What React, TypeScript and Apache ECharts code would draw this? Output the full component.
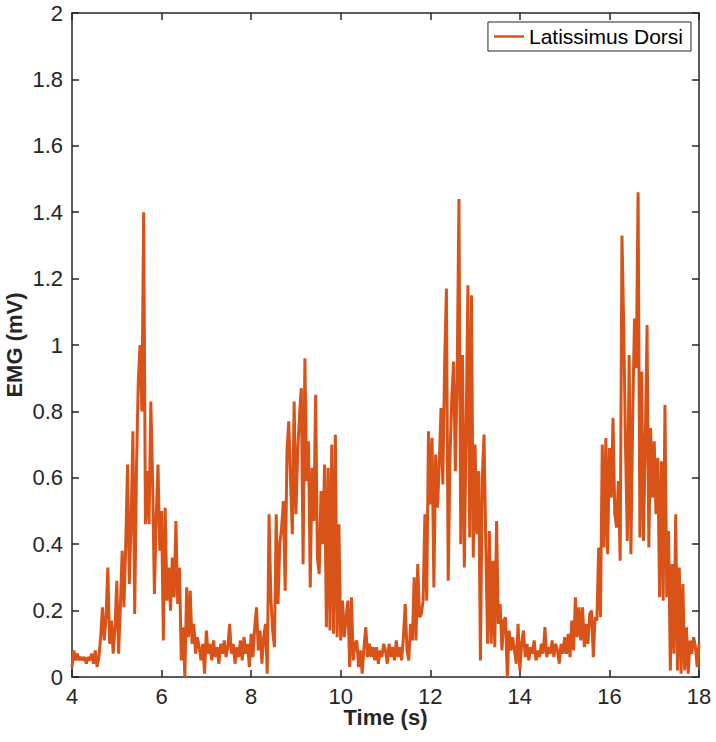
import React, { useEffect, useRef } from "react";
import * as echarts from "echarts";

// ---- Data (EMG, mV), sampled every 0.04 s starting at 4 s ----
const START_TIME = 4;
const SAMPLE_STEP = 0.04;
const SERIES_NAME = "Latissimus Dorsi";
const X_TITLE = "Time (s)";
const Y_TITLE = "EMG (mV)";
const X_TICKS = [4, 6, 8, 10, 12, 14, 16, 18];
const Y_TICKS = [0, 0.2, 0.4, 0.6, 0.8, 1, 1.2, 1.4, 1.6, 1.8, 2];

const emg4s = [0.03, 0.08, 0.05, 0.07, 0.05, 0.06, 0.05, 0.06, 0.04, 0.06, 0.05, 0.07, 0.04, 0.08, 0.03, 0.06, 0.12, 0.21, 0.11, 0.18, 0.33, 0.10, 0.17, 0.07, 0.15];
const emg5s = [0.29, 0.07, 0.21, 0.38, 0.21, 0.40, 0.64, 0.28, 0.47, 0.74, 0.19, 0.63, 0.89, 1.00, 0.80, 1.40, 0.46, 0.62, 0.46, 0.83, 0.59, 0.25, 0.48, 0.64, 0.38];
const emg6s = [0.50, 0.11, 0.51, 0.23, 0.33, 0.20, 0.36, 0.24, 0.47, 0.22, 0.33, 0.05, 0.15, 0.00, 0.27, 0.12, 0.26, 0.10, 0.16, 0.07, 0.12, 0.09, 0.05, 0.10, 0.01];
const emg7s = [0.14, 0.07, 0.10, 0.05, 0.11, 0.06, 0.09, 0.04, 0.10, 0.07, 0.11, 0.06, 0.09, 0.16, 0.07, 0.10, 0.04, 0.09, 0.06, 0.11, 0.05, 0.12, 0.07, 0.10, 0.03];
const emg8s = [0.13, 0.06, 0.15, 0.21, 0.08, 0.14, 0.04, 0.12, 0.16, 0.01, 0.49, 0.24, 0.14, 0.09, 0.49, 0.22, 0.40, 0.45, 0.53, 0.26, 0.68, 0.77, 0.59, 0.43, 0.83];
const emg9s = [0.49, 0.68, 0.79, 0.87, 0.34, 0.96, 0.59, 0.71, 0.27, 0.63, 0.47, 0.85, 0.36, 0.31, 0.56, 0.40, 0.64, 0.15, 0.63, 0.14, 0.70, 0.13, 0.73, 0.12, 0.46];
const emg10s = [0.11, 0.23, 0.12, 0.18, 0.23, 0.03, 0.24, 0.05, 0.10, 0.11, 0.03, 0.08, 0.01, 0.09, 0.15, 0.06, 0.10, 0.06, 0.09, 0.05, 0.09, 0.04, 0.08, 0.06, 0.10];
const emg11s = [0.08, 0.04, 0.10, 0.06, 0.09, 0.05, 0.11, 0.06, 0.09, 0.05, 0.12, 0.22, 0.08, 0.05, 0.16, 0.11, 0.30, 0.11, 0.34, 0.18, 0.19, 0.23, 0.49, 0.23, 0.74];
const emg12s = [0.52, 0.72, 0.27, 0.67, 0.51, 0.64, 0.81, 0.58, 0.94, 1.17, 0.29, 0.66, 0.84, 0.95, 0.62, 0.90, 1.44, 0.40, 0.97, 0.33, 0.74, 1.18, 0.42, 1.15, 0.36];
const emg13s = [0.70, 0.43, 0.62, 0.05, 0.60, 0.73, 0.39, 0.10, 0.44, 0.10, 0.35, 0.09, 0.47, 0.16, 0.22, 0.08, 0.17, 0.18, 0.00, 0.14, 0.08, 0.12, 0.08, 0.04, 0.16];
const emg14s = [0.02, 0.10, 0.14, 0.06, 0.10, 0.05, 0.09, 0.07, 0.11, 0.05, 0.08, 0.06, 0.10, 0.07, 0.15, 0.06, 0.09, 0.07, 0.11, 0.06, 0.10, 0.08, 0.04, 0.10, 0.07];
const emg15s = [0.12, 0.07, 0.13, 0.06, 0.17, 0.08, 0.24, 0.12, 0.21, 0.11, 0.21, 0.09, 0.16, 0.10, 0.19, 0.20, 0.06, 0.18, 0.17, 0.39, 0.18, 0.70, 0.39, 0.72, 0.37];
const emg16s = [0.69, 0.54, 0.78, 0.49, 0.45, 0.59, 0.35, 1.33, 1.05, 0.69, 0.41, 0.97, 0.37, 0.79, 1.08, 0.93, 1.46, 0.42, 0.92, 0.41, 0.70, 1.06, 0.39, 0.75, 0.54];
const emg17s = [0.71, 0.49, 0.66, 0.24, 0.65, 0.23, 0.82, 0.24, 0.44, 0.02, 0.34, 0.07, 0.49, 0.02, 0.33, 0.01, 0.28, 0.02, 0.15, 0.01, 0.11, 0.07, 0.12, 0.09, 0.03];
const emg18s = [0.10];

const FONT = "'Liberation Sans', Arial, Helvetica, sans-serif";
const AXIS_COLOR = "#262626";
const LINE_COLOR = "#D95319";

export default function App() {
  const ref = useRef<HTMLDivElement>(null);

  useEffect(() => {
    document.body.style.margin = "0";
    if (!ref.current) return;
    const chart = echarts.init(ref.current, null, { renderer: "svg" });

    const values = [
      ...emg4s, ...emg5s, ...emg6s, ...emg7s, ...emg8s, ...emg9s, ...emg10s,
      ...emg11s, ...emg12s, ...emg13s, ...emg14s, ...emg15s, ...emg16s, ...emg17s, ...emg18s,
    ];
    const data = values.map((v, i) => [
      Math.round((START_TIME + i * SAMPLE_STEP) * 100) / 100,
      v,
    ]);

    const xMin = X_TICKS[0];
    const xMax = X_TICKS[X_TICKS.length - 1];
    const xInterval = X_TICKS[1] - X_TICKS[0];
    const yMin = Y_TICKS[0];
    const yMax = Y_TICKS[Y_TICKS.length - 1];
    const yInterval = Math.round((Y_TICKS[1] - Y_TICKS[0]) * 10) / 10;

    const axisLine = { show: true, onZero: false, lineStyle: { color: AXIS_COLOR, width: 1.5 } };
    const axisTick = { show: true, inside: true, length: 7, lineStyle: { color: AXIS_COLOR, width: 1.5 } };
    const axisLabel = { fontSize: 22, color: AXIS_COLOR, fontFamily: FONT };
    const nameTextStyle = { fontSize: 22, fontWeight: "bold", color: AXIS_COLOR, fontFamily: FONT };

    chart.setOption({
      animation: false,
      backgroundColor: "#ffffff",
      textStyle: { fontFamily: FONT },
      grid: { left: 72, right: 17, top: 13, bottom: 65, containLabel: false, outerBoundsMode: "none" },
      legend: {
        right: 25,
        top: 22,
        padding: [4, 8, 4, 6],
        borderColor: AXIS_COLOR,
        borderWidth: 1,
        backgroundColor: "#ffffff",
        itemWidth: 30,
        itemHeight: 2.5,
        icon: "rect",
        textStyle: { fontSize: 21, color: "#000000", fontFamily: FONT },
        data: [SERIES_NAME],
      },
      xAxis: [
        {
          type: "value",
          min: xMin,
          max: xMax,
          interval: xInterval,
          position: "bottom",
          name: X_TITLE,
          nameLocation: "middle",
          nameGap: 29,
          nameMoveOverlap: false,
          nameTextStyle,
          axisLine,
          axisTick,
          axisLabel: { ...axisLabel, margin: 8 },
          splitLine: { show: false },
        },
        {
          type: "value",
          min: xMin,
          max: xMax,
          interval: xInterval,
          position: "top",
          axisLine,
          axisTick,
          axisLabel: { show: false },
          splitLine: { show: false },
        },
      ],
      yAxis: [
        {
          type: "value",
          min: yMin,
          max: yMax,
          interval: yInterval,
          position: "left",
          name: Y_TITLE,
          nameLocation: "middle",
          nameGap: 47,
          nameMoveOverlap: false,
          nameRotate: 90,
          nameTextStyle,
          axisLine,
          axisTick,
          axisLabel: { ...axisLabel, margin: 9 },
          splitLine: { show: false },
        },
        {
          type: "value",
          min: yMin,
          max: yMax,
          interval: yInterval,
          position: "right",
          axisLine,
          axisTick,
          axisLabel: { show: false },
          splitLine: { show: false },
        },
      ],
      series: [
        {
          type: "line",
          name: SERIES_NAME,
          data,
          xAxisIndex: 0,
          yAxisIndex: 0,
          showSymbol: false,
          symbol: "none",
          lineStyle: { color: LINE_COLOR, width: 3 },
          itemStyle: { color: LINE_COLOR },
          clip: true,
        },
      ],
    });

    return () => chart.dispose();
  }, []);

  return (
    <div
      ref={ref}
      style={{ position: "absolute", left: 0, top: 0, width: 716, height: 742, background: "#fff" }}
    />
  );
}
